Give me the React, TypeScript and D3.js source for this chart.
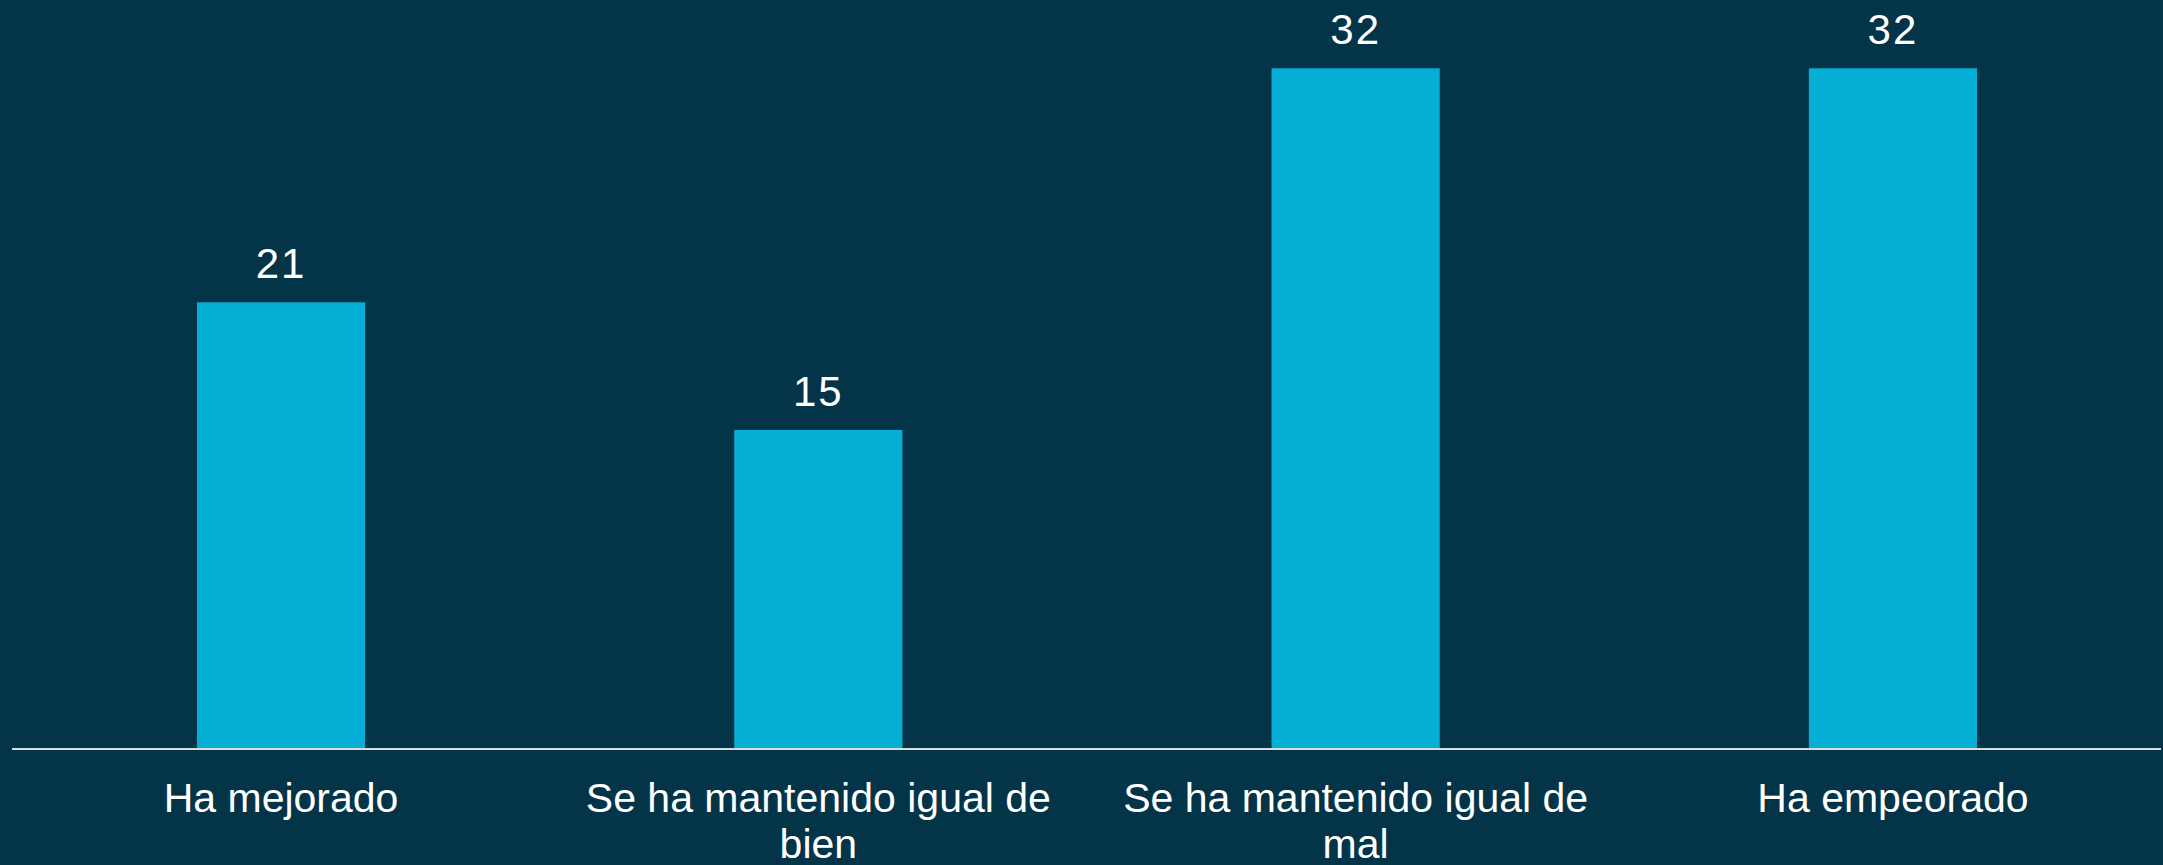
import React, { useEffect, useRef } from "react";
import * as d3 from "d3";

const categories = [
  "Ha mejorado",
  "Se ha mantenido igual de bien",
  "Se ha mantenido igual de mal",
  "Ha empeorado",
];
const values = [21, 15, 32, 32];

const W = 2163;
const H = 865;
const BG = "#043447";
const BAR = "#06AFD6";

export default function App() {
  const ref = useRef<SVGSVGElement>(null);

  useEffect(() => {
    document.body.style.margin = "0";
    document.body.style.background = BG;
    const svg = d3.select(ref.current);
    svg.selectAll("*").remove();

    const x = d3.scaleBand<string>().domain(categories).range([12.4, 2161.6]).paddingInner(0.687).paddingOuter(0.3435);
    const y = d3.scaleLinear().domain([0, 35]).range([749, 4.5]);

    svg.append("rect").attr("width", W).attr("height", H).attr("fill", BG);

    svg
      .selectAll("rect.bar")
      .data(values)
      .join("rect")
      .attr("class", "bar")
      .attr("x", (_, i) => x(categories[i])!)
      .attr("width", x.bandwidth())
      .attr("y", (d) => y(d))
      .attr("height", (d) => y(0) - y(d))
      .attr("fill", BAR);

    svg
      .selectAll("text.val")
      .data(values)
      .join("text")
      .attr("class", "val")
      .attr("x", (_, i) => x(categories[i])! + x.bandwidth() / 2)
      .attr("y", (d) => y(d) - 24)
      .attr("text-anchor", "middle")
      .attr("fill", "#ffffff")
      .attr("font-family", "'Liberation Sans', Arial, sans-serif")
      .attr("font-size", 42)
      .attr("letter-spacing", 2)
      .text((d) => String(d));

    svg
      .append("line")
      .attr("x1", 12)
      .attr("x2", 2161)
      .attr("y1", y(0))
      .attr("y2", y(0))
      .attr("stroke", "#d9dde0")
      .attr("stroke-width", 2);

    const maxW = 500;
    categories.forEach((c) => {
      const cx = x(c)! + x.bandwidth() / 2;
      const t = svg
        .append("text")
        .attr("text-anchor", "middle")
        .attr("fill", "#ffffff")
        .attr("font-family", "'Liberation Sans', Arial, sans-serif")
        .attr("font-size", 41);
      const words = c.split(" ");
      let line: string[] = [];
      let lineNo = 0;
      let tspan = t.append("tspan").attr("x", cx).attr("y", 812);
      for (const w of words) {
        line.push(w);
        tspan.text(line.join(" "));
        if ((tspan.node() as SVGTSpanElement).getComputedTextLength() > maxW && line.length > 1) {
          line.pop();
          tspan.text(line.join(" "));
          line = [w];
          lineNo++;
          tspan = t.append("tspan").attr("x", cx).attr("y", 812 + lineNo * 46).text(w);
        }
      }
    });
  }, []);

  return <svg ref={ref} width={W} height={H} style={{ display: "block" }} />;
}
